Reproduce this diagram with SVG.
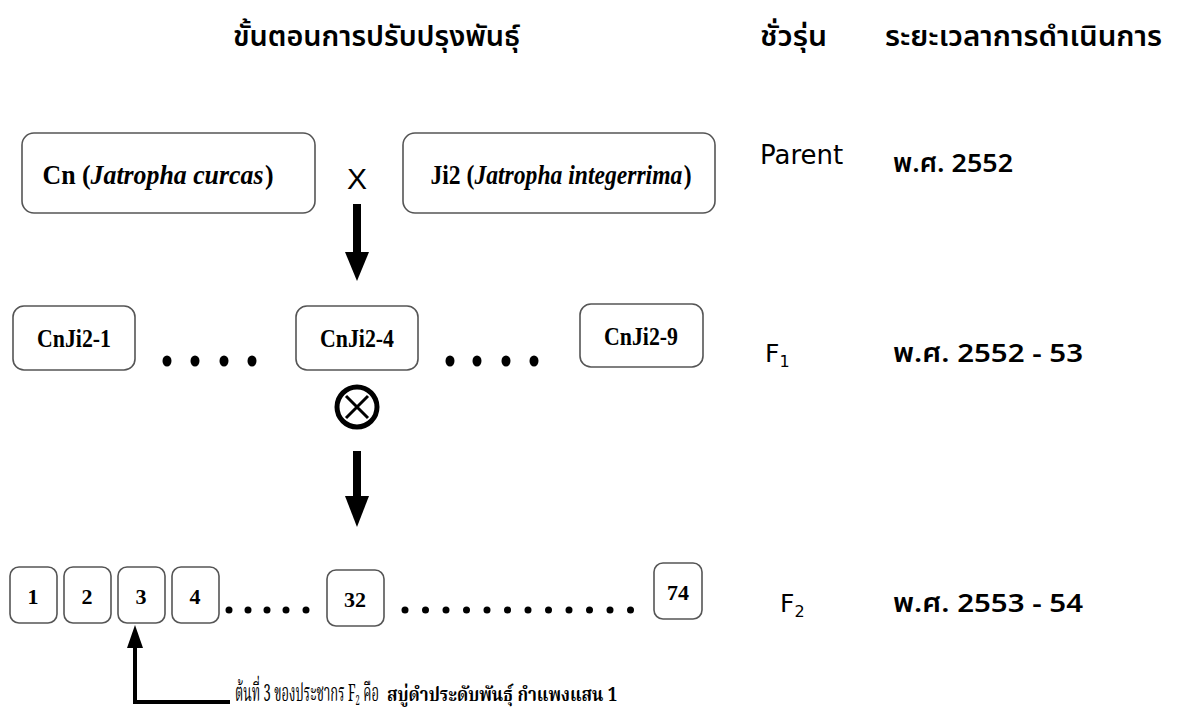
<svg xmlns="http://www.w3.org/2000/svg" width="1180" height="715" viewBox="0 0 1180 715">
<style>
.box{fill:#fff;stroke:#555;stroke-width:1.6}
.lbl{font-family:'Liberation Serif','Times New Roman',serif;font-weight:bold;fill:#000;text-anchor:middle}
.th{font-family:'Noto Sans Thai','Tahoma','DejaVu Sans','Noto Sans',sans-serif;fill:#000}
.en{font-family:'DejaVu Sans','Noto Sans',sans-serif;fill:#000}
.ths{font-family:'Noto Serif Thai','Liberation Serif',serif;fill:#000}
.dot{fill:#000}
.shaft{stroke:#000;fill:none}
</style>
<rect width="1180" height="715" fill="#fff"/>
<g id="headers">
<text class="th" x="233" y="46" font-size="28" font-weight="600" textLength="287" lengthAdjust="spacingAndGlyphs">ขั้นตอนการปรับปรุงพันธุ์</text>
<text class="th" x="760" y="46" font-size="28" font-weight="600" textLength="67" lengthAdjust="spacingAndGlyphs">ชั่วรุ่น</text>
<text class="th" x="885" y="46" font-size="28" font-weight="600" textLength="277" lengthAdjust="spacingAndGlyphs">ระยะเวลาการดำเนินการ</text>
</g>
<g id="parent-cn">
<rect class="box" x="22" y="133" width="293" height="80" rx="12"/>
<text class="lbl" x="158" y="184" font-size="27" textLength="231" lengthAdjust="spacingAndGlyphs">Cn (<tspan font-style="italic">Jatropha curcas</tspan><tspan dx="1.5">)</tspan></text>
</g>
<g id="cross">
<text x="357" y="189" font-family="'Liberation Sans',Arial,sans-serif" font-size="30" text-anchor="middle">X</text>
</g>
<g id="parent-ji2">
<rect class="box" x="403" y="133" width="312" height="80" rx="12"/>
<text class="lbl" x="561" y="184" font-size="27" textLength="261" lengthAdjust="spacingAndGlyphs">Ji2 (<tspan font-style="italic">Jatropha  integerrima</tspan><tspan dx="1.5">)</tspan></text>
</g>
<g id="f1-1">
<rect class="box" x="13" y="306" width="122" height="64" rx="11"/>
<text class="lbl" x="74" y="347" font-size="25" textLength="74" lengthAdjust="spacingAndGlyphs">CnJi2-1</text>
</g>
<g id="f1-4">
<rect class="box" x="296" y="306" width="122" height="64" rx="11"/>
<text class="lbl" x="357" y="347" font-size="25" textLength="74" lengthAdjust="spacingAndGlyphs">CnJi2-4</text>
</g>
<g id="f1-9">
<rect class="box" x="580" y="304" width="123" height="63" rx="11"/>
<text class="lbl" x="641" y="345" font-size="25" textLength="74" lengthAdjust="spacingAndGlyphs">CnJi2-9</text>
</g>
<g id="f1-dots">
<ellipse class="dot" cx="167" cy="361" rx="4.5" ry="5.5"/>
<ellipse class="dot" cx="195" cy="361" rx="4.5" ry="5.5"/>
<ellipse class="dot" cx="224" cy="361" rx="4.5" ry="5.5"/>
<ellipse class="dot" cx="252" cy="361" rx="4.5" ry="5.5"/>
<ellipse class="dot" cx="450" cy="361" rx="4.5" ry="5.5"/>
<ellipse class="dot" cx="477" cy="361" rx="4.5" ry="5.5"/>
<ellipse class="dot" cx="506" cy="361" rx="4.5" ry="5.5"/>
<ellipse class="dot" cx="534" cy="361" rx="4.5" ry="5.5"/>
</g>
<g id="selfing">
<circle cx="357" cy="407" r="20" fill="none" stroke="#000" stroke-width="5"/>
<path d="M346 396 L368 418 M368 396 L346 418" stroke="#000" stroke-width="3" fill="none"/>
</g>
<g id="f2-1"><rect class="box" x="10" y="567" width="47" height="56" rx="9"/><text class="lbl" x="33" y="604" font-size="22">1</text></g>
<g id="f2-2"><rect class="box" x="64" y="567" width="47" height="56" rx="9"/><text class="lbl" x="87" y="604" font-size="22">2</text></g>
<g id="f2-3"><rect class="box" x="118" y="567" width="47" height="56" rx="9"/><text class="lbl" x="141" y="604" font-size="22">3</text></g>
<g id="f2-4"><rect class="box" x="172" y="567" width="47" height="56" rx="9"/><text class="lbl" x="195" y="604" font-size="22">4</text></g>
<g id="f2-32"><rect class="box" x="327" y="570" width="57" height="56" rx="9"/><text class="lbl" x="355" y="607" font-size="22">32</text></g>
<g id="f2-74"><rect class="box" x="654" y="563" width="48" height="56" rx="9"/><text class="lbl" x="678" y="600" font-size="22">74</text></g>
<g id="f2-dots">
<circle class="dot" cx="229" cy="610" r="3.5"/><circle class="dot" cx="248" cy="610" r="3.5"/><circle class="dot" cx="267" cy="610" r="3.5"/><circle class="dot" cx="286" cy="610" r="3.5"/><circle class="dot" cx="306" cy="610" r="3.5"/>
<circle class="dot" cx="405" cy="610" r="3.5"/><circle class="dot" cx="425.5" cy="610" r="3.5"/><circle class="dot" cx="446" cy="610" r="3.5"/><circle class="dot" cx="466.5" cy="610" r="3.5"/><circle class="dot" cx="487" cy="610" r="3.5"/><circle class="dot" cx="507.5" cy="610" r="3.5"/><circle class="dot" cx="528" cy="610" r="3.5"/><circle class="dot" cx="548.5" cy="610" r="3.5"/><circle class="dot" cx="569" cy="610" r="3.5"/><circle class="dot" cx="589.5" cy="610" r="3.5"/><circle class="dot" cx="610" cy="610" r="3.5"/><circle class="dot" cx="630.5" cy="610" r="3.5"/>
</g>
<g id="connectors">
<line class="shaft" x1="357" y1="204" x2="357" y2="256" stroke-width="8"/>
<path d="M345 252 L369 252 L357 281 Z"/>
<line class="shaft" x1="357" y1="451" x2="357" y2="500" stroke-width="8"/>
<path d="M345 496 L369 496 L357 527 Z"/>
<path class="shaft" d="M230 702 L135 702 L135 645" stroke-width="4"/>
<path d="M127 648 L143 648 L135 625 Z"/>
</g>
<g id="note">
<text class="ths" font-size="24" transform="translate(235 701) scale(0.54 1)">ต้นที่ 3 ของประชากร F<tspan font-size="14" dy="4">2</tspan><tspan dy="-4"> คือ</tspan></text>
<text class="ths" font-size="19" font-weight="bold" transform="translate(387 701) scale(0.89 1)">สบู่ดำประดับพันธุ์ กำแพงแสน 1</text>
</g>
<g id="generations">
<text class="en" x="760" y="164" font-size="26">Parent</text>
<text class="en" x="765" y="362" font-size="25">F<tspan font-size="16" dy="5">1</tspan></text>
<text class="en" x="780" y="612" font-size="25">F<tspan font-size="16" dy="5">2</tspan></text>
</g>
<g id="periods">
<text class="th" x="893" y="172" font-size="26" font-weight="600" textLength="120" lengthAdjust="spacingAndGlyphs">พ.ศ. 2552</text>
<text class="th" x="893" y="362" font-size="26" font-weight="600" textLength="190" lengthAdjust="spacingAndGlyphs">พ.ศ. 2552 - 53</text>
<text class="th" x="893" y="612" font-size="26" font-weight="600" textLength="190" lengthAdjust="spacingAndGlyphs">พ.ศ. 2553 - 54</text>
</g>
</svg>
